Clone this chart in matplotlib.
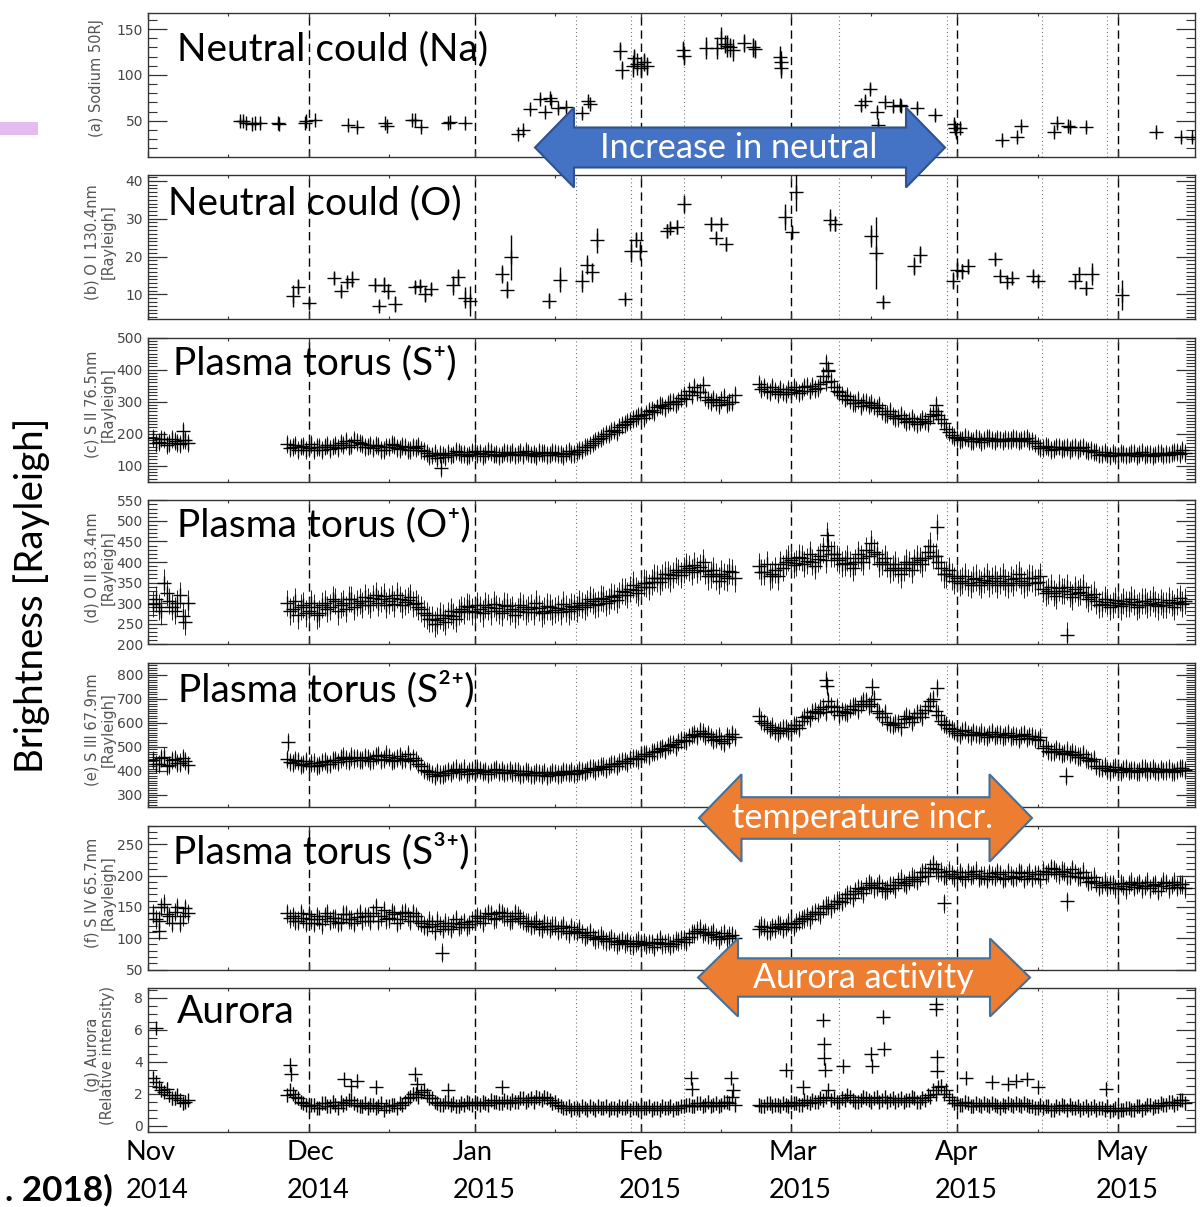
import numpy as np
import matplotlib
matplotlib.use("Agg")
import matplotlib.pyplot as plt
from matplotlib.patches import Polygon, Rectangle
from matplotlib.ticker import MultipleLocator, FixedLocator

# ---------------- data (x = days since 2014-11-01) ----------------
month_days = [0, 30, 61, 92, 120, 151, 181]
month_labels = ['Nov\n2014', 'Dec\n2014', 'Jan\n2015', 'Feb\n2015',
                'Mar\n2015', 'Apr\n2015', 'May\n2015']
mid_month_days = [15, 45, 76, 107, 135, 166]
dashed_days = [30, 61, 92, 120, 151, 181]
dotted_days = [79.9, 90.1, 100.0, 128.9, 149.2, 166.9, 178.9]

# (a) Sodium 50 RJ
na_days = [17.2, 17.8, 18.4, 19.4, 20.0, 20.9, 24.3, 24.5, 29.3, 29.6,
           31.2, 37.4, 39.0, 44.2, 44.6, 49.2, 49.8, 51.0, 56.0, 56.3,
           59.2, 69.1, 70.0, 71.3, 73.2, 74.1, 75.0, 75.3, 76.6, 78.1,
           81.0, 82.2, 82.5, 88.1, 88.4, 90.6, 90.8, 91.2, 92.0, 92.5,
           93.2, 99.9, 100.0, 104.2, 106.2, 106.9, 107.6, 108.0, 108.6, 109.2,
           111.3, 113.0, 113.2, 118.0, 118.1, 118.2, 133.1, 133.8, 134.8, 136.1,
           136.2, 137.5, 139.0, 140.3, 140.6, 143.5, 146.9, 150.4, 150.6, 150.8,
           151.5, 159.3, 162.2, 163.0, 169.0, 169.7, 171.7, 172.0, 175.0, 188.1,
           192.8, 194.9]
na_vals = [49.7, 50, 47.5, 46, 47, 47.5, 48, 46.5, 47, 50,
           50.5, 45, 43, 47, 44, 50.5, 51, 43, 47, 49,
           47.5, 36, 39.5, 63, 74, 60, 75, 71, 64, 65,
           58, 72, 68, 126, 105, 110, 118, 112, 108, 114,
           110, 127, 121, 129, 129, 140, 134, 132, 130, 127,
           135, 130, 128, 120, 114, 107, 67, 72, 85, 60,
           45, 70, 66, 67, 66, 64, 56, 46, 42, 38,
           42, 28.5, 32, 44, 38, 47, 44, 43, 43, 38,
           32, 32]
na_err = [3, 3, 3, 3, 3, 3, 3, 3, 3, 3,
          3, 3, 3, 3, 3, 3, 3, 3, 3, 3,
          3, 4, 4, 4, 4, 4, 4, 4, 4, 4,
          4, 4, 4, 10, 10, 12, 10, 12, 10, 10,
          10, 10, 10, 12, 12, 12, 10, 12, 10, 12,
          10, 10, 10, 12, 12, 10, 5, 5, 5, 5,
          5, 5, 5, 5, 5, 5, 5, 6, 6, 6,
          4, 4, 4, 4, 4, 4, 4, 4, 4, 4,
          4, 4]

# (b) O I 130.4 nm
oi_days = [27.1, 28.0, 30.0, 34.7, 36.0, 37.2, 38.1, 42.3, 44.0, 43.1,
           44.8, 46.1, 49.9, 50.8, 51.8, 52.8, 56.9, 57.9, 59.2, 60.1,
           66.0, 67.0, 67.8, 74.9, 76.9, 81.0, 81.9, 82.9, 83.9, 89.0,
           90.1, 91.1, 91.8, 96.8, 97.5, 98.8, 100.0, 105.1, 107.0, 106.1,
           107.9, 118.8, 120.1, 121.0, 127.3, 128.2, 134.9, 135.9, 137.1, 142.9,
           144.0, 150.2, 151.0, 152.0, 153.0, 158.0, 159.0, 160.3, 161.3, 165.1,
           166.0, 173.0, 173.8, 175.1, 176.1, 181.8]
oi_vals = [9.5, 12, 7.7, 14.3, 10.8, 13.2, 14.1, 12.6, 12.6, 7,
           10.8, 7.5, 12, 12.3, 10.1, 11.4, 12.4, 14.6, 9.2, 8.2,
           15.5, 11.3, 19.8, 8.3, 13.9, 13.6, 17.9, 15.8, 24.3, 8.8,
           21.6, 24.5, 21.6, 26.7, 27.6, 27.8, 33.9, 28.6, 28.5, 24.9,
           23.4, 30.4, 26.4, 37, 29.6, 28.7, 25.4, 21, 7.9, 17.6,
           20.5, 13.6, 16.5, 16.1, 17.4, 19.4, 14.8, 13.4, 14.3, 14.9,
           13.6, 13.5, 15.5, 11.7, 15.5, 9.9]
oi_err = [2.9, 2, 1.5, 1.5, 1.5, 1.5, 2, 1.8, 2, 1.2,
          2, 2, 1.5, 1.5, 2, 1.5, 2.6, 2, 2.9, 4,
          2.4, 2.2, 6, 2, 3.3, 2.9, 2.4, 2.4, 3.3, 1.2,
          3, 2, 2.4, 1.8, 1.5, 1.8, 2.4, 1.8, 1.8, 1.5,
          1.8, 3.5, 1.5, 5, 2.9, 2, 2.9, 9.5, 1.5, 2.4,
          2.2, 2.2, 2, 2, 2, 1.5, 1.5, 1.5, 1.5, 1.5,
          1.5, 2, 1.8, 1.8, 2.9, 4]

# dense torus / aurora series: one reading per day (a) and a second reading half a day later (b)
dense_days = list(range(1, 8)) + list(range(26, 110)) + list(range(114, 194))
dense_days_b = [d + 0.5 for d in dense_days]

sii_vals = [188, 175, 182, 170, 178, 168, 180,
            168, 158, 150, 162, 155, 148, 158, 160, 152, 165,
            170, 178, 165, 175, 168, 160,
            155, 162, 150, 158, 165, 152, 160, 148, 155, 150,
            140, 132, 125, 135,
            140, 135, 142, 138, 133, 145, 140, 136, 142, 138, 135, 140, 144,
            138, 134, 140, 137, 143, 139, 135, 141, 137, 140, 136, 142,
            150, 160, 170, 182, 192, 200, 212, 220, 230, 240, 248, 258, 262,
            275, 282, 288, 292, 298, 302,
            320, 335, 345, 330, 315, 300, 298, 305, 292, 300,
            355, 345, 330, 335, 340, 325, 330, 338, 332, 348, 350, 342, 380, 395,
            345, 330, 310, 305, 295, 288, 300, 295, 280, 270, 262, 255, 248, 245,
            240, 238, 236, 240, 255, 270, 245, 215, 195,
            188, 182, 185, 178, 184, 180, 186, 178, 182, 185, 179, 183, 180, 186, 178,
            162, 155, 158, 152, 160, 156, 150, 158, 154, 150, 148,
            142, 136, 135, 140, 132, 138, 135, 140, 136, 133, 138, 135, 140, 137,
            139, 142, 148]
sii_vals_b = [172, 185, 165, 183, 172, 181, 170,
              155, 165, 160, 150, 168, 158, 150, 165, 160, 155,
              165, 160, 180, 170, 158, 165,
              165, 150, 160, 168, 155, 162, 150, 158, 162, 145,
              130, 140, 138, 128,
              132, 145, 136, 130, 142, 137, 131, 145, 135, 130, 143, 137, 132,
              142, 145, 135, 130, 140, 133, 144, 136, 131, 145, 138, 150,
              158, 165, 178, 188, 198, 208, 205, 228, 236, 246, 255, 250, 270,
              268, 290, 280, 300, 292, 312,
              310, 322, 330, 352, 305, 310, 290, 315, 300, 320,
              340, 335, 345, 325, 330, 340, 345, 328, 345, 335, 340, 355, 360, 365,
              335, 320, 318, 295, 305, 298, 290, 285, 290, 262, 270, 248, 258, 238,
              248, 230, 245, 232, 262, 258, 235, 205, 190,
              180, 190, 176, 186, 175, 188, 180, 185, 176, 180, 188, 176, 185, 178, 172,
              155, 162, 150, 160, 152, 158, 155, 148, 160, 145, 142,
              135, 142, 130, 134, 140, 132, 140, 130, 142, 138, 130, 140, 132, 135,
              142, 136, 140]
sii_out_days = [54.7, 6.6, 126.6, 126.9, 147.0]
sii_out_vals = [92, 210, 420, 400, 290]

oii_vals = [298, 290, 350, 305, 282, 320, 255,
            300, 285, 270, 295, 280, 290, 275, 300, 290, 305, 295, 285, 310, 300, 295,
            305, 312, 300, 318, 306, 298, 310, 302, 315, 300,
            285, 270, 262, 258, 265, 272, 268, 278,
            282, 290, 278, 285, 295, 280, 288, 276, 292, 285, 280, 290, 285, 278,
            288, 282, 290, 284, 279, 287, 292, 285,
            295, 300, 305, 298, 310, 305, 315, 320, 328, 335, 332, 340, 348, 352,
            360, 362, 370, 368, 375, 380, 385, 392, 388, 378, 370, 365, 372, 362, 375,
            390, 375, 365, 380, 395, 400, 405, 398, 410, 402, 400, 408, 430,
            440, 420, 405, 398, 395, 400, 410, 430, 445, 420, 400, 395, 385, 380,
            385, 395, 400, 405, 410, 440, 415, 385, 370, 365,
            360, 355, 350, 358, 352, 356, 348, 360, 355, 350, 358, 362, 355, 350, 360, 352,
            335, 330, 325, 338, 330, 322, 335, 328, 320, 315,
            305, 298, 302, 295, 300, 305, 298, 302, 296, 305, 300, 298, 302, 295,
            300, 304, 298]
oii_vals_b = [310, 280, 325, 290, 300, 268, 300,
              280, 305, 290, 275, 300, 270, 295, 285, 310, 280, 300, 310, 290, 305, 315,
              295, 320, 310, 295, 312, 320, 295, 308, 298, 290,
              275, 262, 250, 270, 255, 280, 262, 285,
              292, 280, 295, 275, 290, 298, 282, 295, 280, 272, 295, 278, 290, 300,
              275, 292, 278, 288, 298, 280, 290, 300,
              290, 310, 295, 312, 300, 318, 308, 330, 320, 345, 325, 350, 340, 362,
              352, 370, 360, 380, 368, 390, 375, 380, 400, 365, 380, 355, 365, 378, 360,
              375, 395, 370, 365, 385, 410, 392, 412, 395, 420, 390, 415, 405,
              420, 410, 395, 410, 385, 420, 400, 415, 425, 395, 410, 380, 395, 370,
              400, 380, 410, 395, 425, 415, 400, 370, 380, 355,
              350, 365, 345, 362, 345, 365, 355, 345, 365, 345, 350, 370, 345, 362, 350, 365,
              325, 340, 318, 330, 340, 315, 325, 340, 310, 322,
              295, 310, 290, 308, 292, 298, 310, 290, 305, 295, 310, 292, 295, 308,
              290, 312, 305]
oii_out_days = [171.5, 147.3, 126.7]
oii_out_vals = [222, 485, 465]

siii_vals = [445, 430, 460, 425, 450, 435, 440,
             450, 432, 440, 428, 420, 435, 425, 440, 430, 445, 452, 448, 460, 455, 445,
             455, 448, 465, 450, 458, 445, 462, 450, 440, 445,
             420, 400, 388, 395, 385,
             400, 405, 395, 410, 398, 392, 405, 400, 396, 408, 402, 395, 390,
             398, 388, 393, 385, 390, 395, 388, 392, 386, 395, 398, 392,
             400, 405, 410, 412, 418, 420, 428, 435, 442, 450, 455, 462, 470, 478,
             485, 495, 505, 512, 520, 530, 540, 555, 565, 545, 540, 535, 525, 545, 555,
             630, 600, 575, 565, 570, 580, 575, 590, 610, 630, 645, 640, 665,
             690, 650, 635, 645, 660, 670, 680, 690, 680, 650, 625, 605, 590, 600,
             615, 620, 625, 640, 655, 690, 650, 610, 590, 575,
             560, 565, 555, 562, 550, 548, 555, 545, 552, 548, 540, 545, 550, 538, 545, 530,
             495, 485, 478, 482, 475, 470, 468, 460, 452, 440,
             420, 412, 405, 410, 402, 408, 400, 405, 398, 410, 404, 400, 408, 402,
             398, 405, 412]
siii_vals_b = [430, 455, 420, 445, 432, 455, 425,
               438, 445, 425, 440, 432, 420, 438, 428, 445, 438, 460, 440, 452, 445, 458,
               440, 462, 445, 468, 440, 455, 445, 470, 455, 430,
               405, 395, 380, 385, 392,
               392, 410, 400, 388, 405, 410, 395, 388, 405, 395, 390, 405, 398,
               385, 400, 382, 395, 385, 380, 396, 385, 398, 390, 388, 402,
               395, 412, 402, 420, 410, 428, 420, 440, 432, 455, 448, 470, 462, 480,
               492, 488, 510, 500, 530, 525, 550, 545, 560, 555, 530, 545, 515, 535, 540,
               610, 590, 585, 560, 580, 565, 590, 580, 625, 620, 650, 660, 645,
               670, 665, 650, 640, 670, 655, 690, 670, 700, 640, 640, 595, 600, 585,
               630, 605, 640, 625, 670, 700, 635, 595, 580, 565,
               550, 572, 548, 555, 560, 540, 562, 552, 540, 558, 548, 535, 555, 545, 535, 540,
               505, 478, 490, 470, 485, 478, 460, 470, 445, 448,
               412, 420, 398, 415, 395, 412, 405, 395, 412, 398, 412, 395, 400, 410,
               395, 412, 405]
siii_out_days = [26.2, 126.5, 126.7, 135.2, 147.3, 171.4]
siii_out_vals = [520, 780, 755, 750, 745, 378]

siv_vals = [140, 128, 155, 135, 142, 125, 148,
            140, 135, 128, 132, 138, 125, 130, 135, 128, 132, 126, 138, 130, 134, 128,
            135, 140, 128, 145, 132, 138, 130, 142, 128, 135,
            125, 118, 122, 128, 115, 120, 124, 118, 126, 122, 128, 132,
            135, 138, 132, 140, 135, 130, 136, 128,
            125, 122, 118, 124, 115, 120, 116, 112, 118, 110,
            108, 105, 102, 100, 98, 96, 95, 94, 92, 90, 93, 91, 89, 92, 94,
            90, 93, 91, 95, 98, 102, 108, 115, 110, 106, 102, 104, 100, 105,
            115, 118, 112, 116, 120, 118, 122, 125, 130, 135, 138, 142, 148,
            152, 155, 160, 165, 170, 175, 178, 182, 185, 182, 180, 178, 185, 190,
            188, 192, 195, 198, 205, 212, 210, 206, 200, 202,
            200, 198, 205, 202, 196, 200, 204, 198, 202, 196, 200, 198, 204, 200, 196, 202,
            208, 205, 210, 202, 206, 200, 204, 198, 196, 192,
            188, 185, 182, 186, 180, 184, 186, 182, 188, 184, 180, 186, 183, 188,
            185, 182, 186]
siv_vals_b = [130, 150, 138, 125, 150, 135, 140,
              132, 128, 140, 125, 130, 135, 122, 140, 132, 125, 138, 130, 125, 140, 135,
              128, 150, 135, 130, 142, 125, 140, 135, 140, 128,
              120, 128, 112, 120, 125, 115, 130, 122, 118, 128, 135, 125,
              140, 130, 142, 135, 128, 140, 132, 125,
              120, 128, 115, 120, 120, 112, 120, 108, 112, 115,
              102, 110, 98, 104, 95, 100, 90, 97, 95, 88, 96, 94, 92, 86, 98,
              92, 88, 96, 98, 94, 108, 112, 108, 105, 110, 98, 108, 104, 100,
              120, 112, 118, 122, 115, 125, 118, 128, 132, 130, 142, 138, 152,
              148, 160, 158, 170, 165, 180, 172, 188, 180, 188, 176, 185, 180, 195,
              185, 198, 192, 205, 200, 218, 205, 200, 208, 196,
              205, 195, 200, 208, 200, 195, 200, 205, 195, 205, 196, 205, 195, 205, 202, 195,
              202, 212, 205, 208, 200, 210, 198, 206, 190, 198,
              182, 190, 186, 180, 188, 178, 190, 185, 180, 190, 185, 176, 190, 180,
              190, 186, 180]
siv_out_days = [54.8, 148.6, 171.5, 2.0]
siv_out_vals = [77, 156, 159, 112]

aur_vals = [3.0, 2.4, 2.1, 1.9, 1.7, 1.6, 1.5,
            1.9, 2.0, 1.7, 1.4,
            1.2, 1.3, 1.1, 1.4, 1.2, 1.3, 1.5, 1.4, 1.6, 1.3, 1.2, 1.1, 1.3, 1.2,
            1.0, 1.2, 1.3, 1.4, 1.5,
            1.8, 2.0, 2.1, 1.9, 1.7,
            1.4, 1.3, 1.5, 1.4, 1.2, 1.3, 1.4, 1.5, 1.3, 1.4, 1.6, 1.5, 1.4, 1.5,
            1.6, 1.5, 1.7, 1.6, 1.5, 1.7, 1.8, 1.6, 1.5,
            1.2, 1.1, 1.0, 1.1, 1.2, 1.0, 1.1, 1.2, 1.1, 1.0, 1.1, 1.2, 1.1, 1.0,
            1.1, 1.2, 1.1, 1.0, 1.1, 1.2, 1.1, 1.0, 1.1, 1.2,
            1.3, 1.2, 1.4, 1.3, 1.2, 1.4, 1.3, 1.5, 1.8,
            1.3, 1.2, 1.4, 1.3, 1.2, 1.3, 1.5, 1.4, 1.3, 1.5, 1.6,
            1.5, 1.6, 2.2, 1.7, 1.5, 1.6, 1.8, 1.5, 1.6, 1.7, 1.5, 1.8, 1.6, 1.5,
            1.7, 1.6, 1.5, 1.6, 1.7, 1.5, 1.6, 1.8, 2.0,
            2.5, 2.2, 1.6,
            1.4, 1.3, 1.4, 1.2, 1.3, 1.4, 1.2, 1.3, 1.1, 1.2, 1.3, 1.4, 1.2, 1.3, 1.2, 1.1,
            1.1, 1.2, 1.0, 1.1, 1.2, 1.3, 1.1, 1.0, 1.2, 1.1, 1.0, 1.1, 1.2, 1.0,
            0.9, 1.0, 1.1, 1.0, 1.2, 1.1, 1.3, 1.2, 1.4, 1.3, 1.5, 1.4, 1.6]
aur_vals_b = [2.7, 2.2, 2.3, 1.7, 1.9, 1.4, 1.6,
              2.2, 1.8, 1.5, 1.3,
              1.3, 1.1, 1.4, 1.2, 1.5, 1.1, 1.3, 1.6, 1.4, 1.2, 1.4, 1.3, 1.1, 1.4,
              1.2, 1.3, 1.1, 1.3, 1.7,
              2.0, 1.8, 2.2, 1.7, 1.5,
              1.3, 1.5, 1.3, 1.2, 1.4, 1.5, 1.3, 1.4, 1.5, 1.3, 1.5, 1.4, 1.6, 1.4,
              1.5, 1.7, 1.5, 1.7, 1.8, 1.6, 1.7, 1.4, 1.3,
              1.1, 1.2, 1.1, 1.0, 1.1, 1.2, 1.0, 1.1, 1.2, 1.1, 1.0, 1.1, 1.2, 1.1,
              1.0, 1.1, 1.2, 1.1, 1.0, 1.1, 1.2, 1.1, 1.2, 1.3,
              1.2, 1.4, 1.2, 1.5, 1.3, 1.2, 1.5, 1.4, 1.3,
              1.2, 1.4, 1.2, 1.3, 1.4, 1.2, 1.4, 1.3, 1.6, 1.4, 1.5,
              1.7, 1.8, 1.6, 1.5, 1.7, 1.9, 1.6, 1.5, 1.8, 1.6, 1.7, 1.5, 1.8, 1.6,
              1.5, 1.7, 1.6, 1.8, 1.5, 1.7, 1.9, 2.2, 2.4,
              2.0, 1.8, 1.4,
              1.3, 1.5, 1.2, 1.4, 1.2, 1.3, 1.4, 1.2, 1.3, 1.4, 1.2, 1.3, 1.4, 1.2, 1.1, 1.3,
              1.2, 1.0, 1.2, 1.3, 1.0, 1.1, 1.2, 1.1, 1.0, 1.2, 1.1, 1.0, 0.9, 1.1,
              1.0, 1.1, 1.0, 1.2, 1.0, 1.3, 1.1, 1.2, 1.3, 1.5, 1.3, 1.6, 1.4]
aur_out_days = [1.5, 26.5, 26.7, 36.6, 38.0, 39.1, 42.5, 49.9, 50.3, 56.0,
                66.0, 101.3, 101.5, 108.9, 109.1, 119.0, 122.2, 126.0, 126.1, 126.2,
                126.3, 129.8, 134.9, 135.1, 137.1, 137.3, 147.0, 147.1, 147.2, 147.3,
                152.7, 157.5, 160.5, 162.0, 164.0, 166.0, 178.7]
aur_out_vals = [6.1, 3.8, 3.2, 2.9, 2.5, 2.8, 2.4, 3.2, 2.6, 2.2,
                2.4, 3.0, 2.3, 3.0, 2.2, 3.5, 2.4, 6.6, 5.1, 4.2,
                3.5, 3.7, 4.5, 3.7, 6.8, 4.8, 7.6, 7.3, 4.3, 3.4,
                3.0, 2.7, 2.6, 2.8, 2.9, 2.4, 2.3]

# typical 1-sigma error of a single dense reading (S II, O II, S III, S IV, aurora)
dense_err = [28, 32, 38, 15, 0.4]

panel_ylabels = ['(a) Sodium 50RJ', '(b) O I 130.4nm\n[Rayleigh]',
                 '(c) S II 76.5nm\n[Rayleigh]', '(d) O II 83.4nm\n[Rayleigh]',
                 '(e) S III 67.9nm\n[Rayleigh]', '(f) S IV 65.7nm\n[Rayleigh]',
                 '(g) Aurora\n(Relative intensity)']
panel_titles = ['Neutral could (Na)', 'Neutral could (O)',
                'Plasma torus (S\u207a)', 'Plasma torus (O\u207a)',
                'Plasma torus (S\u00b2\u207a)', 'Plasma torus (S\u00b3\u207a)',
                'Aurora']

# ---------------- layout ----------------
W, H = 1202, 1207
fig = plt.figure(figsize=(W / 100, H / 100), dpi=100)
renderer = fig.canvas.get_renderer()
TITLE_FONT = ['Lato', 'DejaVu Sans']

def fx(x):
    return x / W

def fy(y):
    return 1 - y / H

AX_L, AX_R = 147.8, 1195.1
TOP0, PITCH, PH = 12.5, 162.6, 144.0

ylims = [(11, 168), (3.5, 41.5), (50, 500), (200, 550), (250, 850), (50, 280), (-0.4, 8.6)]
ymaj = [[50, 100, 150], [10, 20, 30, 40], [100, 200, 300, 400, 500],
        [200, 250, 300, 350, 400, 450, 500, 550], [300, 400, 500, 600, 700, 800],
        [50, 100, 150, 200, 250], [0, 2, 4, 6, 8]]
ymin_step = [10, 1, 10, 10, 10, 10, 0.5]
title_pos = [(177, 49.5), (168, 203), (173, 363), (177, 525), (178, 689), (173, 851), (177, 1012)]

axes = []
for i in range(7):
    top = TOP0 + i * PITCH
    ax = fig.add_axes([fx(AX_L), fy(top + PH), fx(AX_R - AX_L), PH / H])
    axes.append(ax)
    ax.set_xlim(0, 195.4)
    ax.set_ylim(*ylims[i])
    ax.xaxis.set_major_locator(FixedLocator(month_days))
    ax.xaxis.set_minor_locator(FixedLocator(mid_month_days))
    ax.yaxis.set_major_locator(FixedLocator(ymaj[i]))
    ax.yaxis.set_minor_locator(MultipleLocator(ymin_step[i]))
    ax.tick_params(axis='x', which='major', direction='in', length=4.3, width=0.9,
                   top=True, bottom=True, color='#333333')
    ax.tick_params(axis='x', which='minor', direction='in', length=2.3, width=0.8,
                   top=True, bottom=True, color='#333333')
    ax.tick_params(axis='y', which='major', direction='in', length=14, width=0.9,
                   left=True, right=True, color='#333333', labelsize=10,
                   labelcolor='#444444', pad=3.5)
    ax.tick_params(axis='y', which='minor', direction='in', length=6.5, width=0.8,
                   left=True, right=True, color='#333333')
    for sp in ax.spines.values():
        sp.set_color('#333333')
        sp.set_linewidth(1.0)
    ax.set_xticklabels([])
    for d in dashed_days:
        ax.axvline(d, color='k', lw=1.0, ls=(0, (6, 3.5)), zorder=1)
    for d in dotted_days:
        ax.axvline(d, color='#777777', lw=0.8, ls=(0, (1, 2.5)), zorder=1)

# month labels under the bottom panel: left-aligned two-line blocks
for d, lab in zip(month_days, month_labels):
    axes[-1].annotate(lab, xy=(d, 0), xycoords=('data', 'axes fraction'),
                      xytext=(-22, -8), textcoords='offset pixels',
                      ha='left', va='top', multialignment='left',
                      fontsize=19.5, family='Lato', color='k', linespacing=1.65,
                      annotation_clip=False)

cross = dict(ls='none', marker='+', ms=10, mew=1.0, color='k', zorder=3)

axes[0].errorbar(na_days, na_vals, yerr=na_err, fmt='+', ms=9.5, mew=1.0,
                 color='k', elinewidth=1.0, capsize=0, zorder=3)
axes[1].errorbar(oi_days, oi_vals, yerr=oi_err, fmt='+', ms=9.5, mew=1.0,
                 color='k', elinewidth=1.0, capsize=0, zorder=3)

dense_series = [(sii_vals, sii_vals_b, sii_out_days, sii_out_vals),
                (oii_vals, oii_vals_b, oii_out_days, oii_out_vals),
                (siii_vals, siii_vals_b, siii_out_days, siii_out_vals),
                (siv_vals, siv_vals_b, siv_out_days, siv_out_vals),
                (aur_vals, aur_vals_b, aur_out_days, aur_out_vals)]
for k, (va, vb, od, ov) in enumerate(dense_series):
    ax = axes[k + 2]
    for dd, vv in ((dense_days, va), (dense_days_b, vb), (od, ov)):
        ax.errorbar(dd, vv, yerr=dense_err[k], fmt='none', ecolor='#222222',
                    elinewidth=0.7, capsize=0, zorder=2)
        ax.plot(dd, vv, **cross)

# ---------------- texts ----------------
def fit_text(s, x, y, length, size0=20, rotated=False, **kw):
    t = fig.text(fx(x), fy(y), s, fontsize=size0, **kw)
    bb = t.get_window_extent(renderer=renderer)
    cur = bb.height if rotated else bb.width
    t.set_fontsize(size0 * length / cur)
    return t

t0 = fit_text(panel_titles[0], title_pos[0][0], title_pos[0][1], 311, 26,
              ha='left', va='center', family=TITLE_FONT, color='k', zorder=5)
tsize = t0.get_fontsize()
for i in range(1, 7):
    fig.text(fx(title_pos[i][0]), fy(title_pos[i][1]), panel_titles[i],
             fontsize=tsize, ha='left', va='center', family=TITLE_FONT, color='k', zorder=5)

lab0 = fit_text(panel_ylabels[0], 97, 78, 118, 10, rotated=True, rotation=90,
                ha='center', va='center', color='#555555', family='DejaVu Sans')
lsize = lab0.get_fontsize()
for i in range(1, 7):
    top = TOP0 + i * PITCH
    fig.text(fx(100), fy(top + PH / 2 - 5), panel_ylabels[i], rotation=90,
             fontsize=lsize, ha='center', va='center', multialignment='center',
             color='#555555', family='DejaVu Sans', linespacing=1.05)

fit_text('Brightness [Rayleigh]', 32, 595, 354, 26, rotated=True, rotation=90,
         ha='center', va='center', family='Lato', color='k')

fit_text('. 2018)', 113, 1190, 108, 20, ha='right', va='center',
         fontweight='bold', family='Lato', color='k')
fig.add_artist(Rectangle((fx(0), fy(135)), fx(38), 13 / H, transform=fig.transFigure,
                         fc='#E4BCF0', ec='none'))

# ---------------- block arrows ----------------
def double_arrow(xl, xr, yc, head_half, shaft_half, head_len, fc, ec):
    pts = [(xl, yc), (xl + head_len, yc - head_half), (xl + head_len, yc - shaft_half),
           (xr - head_len, yc - shaft_half), (xr - head_len, yc - head_half), (xr, yc),
           (xr - head_len, yc + head_half), (xr - head_len, yc + shaft_half),
           (xl + head_len, yc + shaft_half), (xl + head_len, yc + head_half)]
    p = Polygon([(fx(a), fy(b)) for a, b in pts], closed=True, transform=fig.transFigure,
                fc=fc, ec=ec, lw=1.5, zorder=10)
    fig.add_artist(p)

double_arrow(535, 945, 147.5, 40, 20, 39, '#4472C4', '#2F528F')
double_arrow(699, 1032, 818, 43.7, 20.8, 42.5, '#ED7D31', '#41719C')
double_arrow(698, 1030, 977.5, 39, 19.2, 40, '#ED7D31', '#41719C')

fit_text('Increase in neutral', 739, 148, 278, 24, ha='center', va='center',
         family='Lato', color='white', zorder=11)
fit_text('temperature incr.', 863, 818, 261, 22, ha='center', va='center',
         family='Lato', color='white', zorder=11)
fit_text('Aurora activity', 863, 978, 220, 22, ha='center', va='center',
         family='Lato', color='white', zorder=11)

fig.savefig('out.png', dpi=100, facecolor='white')
